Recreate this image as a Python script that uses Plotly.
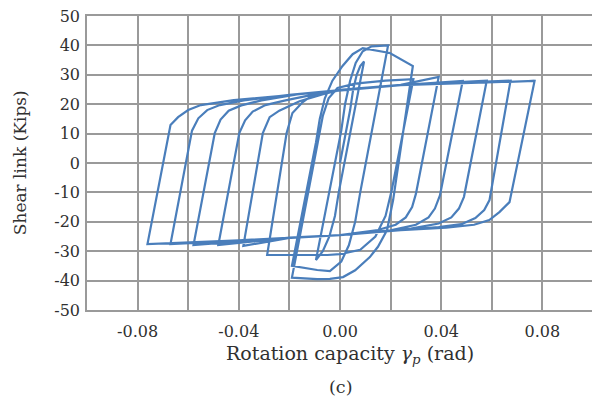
import plotly.graph_objects as go

# ---- axis ticks ----
x_grid_vals = [-0.10, -0.08, -0.06, -0.04, -0.02, 0.00, 0.02, 0.04, 0.06, 0.08, 0.10]
x_tick_text = ["", "-0.08", "", "-0.04", "", "0.00", "", "0.04", "", "0.08", ""]
y_tick_vals = [-50, -40, -30, -20, -10, 0, 10, 20, 30, 40, 50]
y_tick_text = ["-50", "-40", "-30", "-20", "-10", "0", "10", "20", "30", "40", "50"]

# ---- hysteresis branches (rotation rad, shear kips) ----
b01_x = [0.0000, 0.0040, 0.0052, 0.0066, 0.0080, 0.0095]
b01_y = [0.0, 18.0, 25.0, 30.0, 33.0, 34.5]
b02_x = [0.0095, -0.0005, -0.0020, -0.0042, -0.0068, -0.0095]
b02_y = [34.5, -10.0, -18.0, -25.0, -30.0, -33.0]
b03_x = [-0.0095, 0.0005, 0.0020, 0.0040, 0.0062, 0.0090, 0.0125, 0.0190]
b03_y = [-33.0, 11.0, 20.0, 28.0, 34.0, 38.0, 39.7, 40.0]
b04_x = [0.0190, 0.0080, 0.0060, 0.0035, 0.0005, -0.0040, -0.0090, -0.0190]
b04_y = [40.0, -10.0, -20.0, -28.0, -33.5, -36.8, -36.4, -35.0]
b05_x = [-0.0190, -0.0095, -0.0080, -0.0060, -0.0030, 0.0010, 0.0050, 0.0090, 0.0197, 0.0288]
b05_y = [-35.0, 7.0, 15.0, 22.0, 28.0, 33.0, 37.0, 39.1, 37.4, 33.0]
b06_x = [0.0288, 0.0210, 0.0186, 0.0150, 0.0118, 0.0060, 0.0012, -0.0040, -0.0090, -0.0190]
b06_y = [33.0, -12.6, -22.8, -28.5, -32.0, -36.5, -38.8, -39.4, -39.5, -39.0]
b07_x = [-0.0190, -0.0085, -0.0068, -0.0045, -0.0010, 0.0060, 0.0180, 0.0290]
b07_y = [-39.0, 8.0, 16.0, 22.0, 25.5, 27.0, 28.0, 28.5]
b08_x = [0.0290, 0.0205, 0.0180, 0.0140, 0.0080, 0.0000, -0.0050, -0.0288]
b08_y = [28.5, -9.0, -18.0, -25.0, -29.5, -31.0, -31.3, -31.3]
b09_x = [-0.0288, -0.0211, -0.0188, -0.0150, -0.0120, -0.0060, 0.0000, 0.0240, 0.0390]
b09_y = [-31.3, 10.2, 17.0, 20.5, 22.4, 24.0, 24.9, 26.6, 29.3]
b10_x = [0.0390, 0.0300, 0.0285, 0.0260, 0.0220, 0.0150, 0.0000, -0.0200, -0.0382]
b10_y = [29.3, -10.5, -15.0, -18.5, -21.0, -22.8, -24.5, -25.5, -28.2]
b11_x = [-0.0382, -0.0305, -0.0278, -0.0240, -0.0211, -0.0160, -0.0060, 0.0000, 0.0240, 0.0485]
b11_y = [-28.2, 10.2, 15.6, 17.8, 19.0, 21.0, 23.6, 24.8, 26.5, 27.9]
b12_x = [0.0485, 0.0395, 0.0375, 0.0350, 0.0300, 0.0200, 0.0000, -0.0200, -0.0481]
b12_y = [27.9, -11.0, -15.5, -18.5, -21.0, -22.9, -24.5, -25.4, -27.9]
b13_x = [-0.0481, -0.0398, -0.0375, -0.0345, -0.0295, -0.0220, -0.0120, 0.0000, 0.0240, 0.0580]
b13_y = [-27.9, 10.2, 14.5, 17.5, 19.7, 21.2, 23.0, 24.8, 26.5, 28.0]
b14_x = [0.0580, 0.0490, 0.0470, 0.0440, 0.0390, 0.0280, 0.0150, 0.0000, -0.0300, -0.0579]
b14_y = [28.0, -11.5, -15.5, -18.5, -20.6, -22.3, -23.3, -24.5, -26.0, -27.9]
b15_x = [-0.0579, -0.0495, -0.0472, -0.0440, -0.0390, -0.0310, -0.0170, 0.0000, 0.0240, 0.0674]
b15_y = [-27.9, 10.2, 14.8, 17.8, 19.6, 21.3, 23.3, 24.8, 26.5, 28.0]
b16_x = [0.0674, 0.0591, 0.0570, 0.0535, 0.0480, 0.0390, 0.0240, 0.0000, -0.0350, -0.0670]
b16_y = [28.0, -12.6, -16.0, -18.7, -20.8, -21.8, -22.8, -24.5, -26.2, -27.6]
b17_x = [-0.0670, -0.0585, -0.0560, -0.0525, -0.0475, -0.0380, -0.0200, 0.0000, 0.0240, 0.0769]
b17_y = [-27.6, 11.0, 15.2, 18.0, 19.7, 21.3, 23.2, 24.8, 26.5, 27.9]
b18_x = [0.0769, 0.0670, 0.0630, 0.0590, 0.0530, 0.0420, 0.0240, 0.0000, -0.0400, -0.0761]
b18_y = [27.9, -13.3, -16.7, -19.4, -21.0, -22.0, -22.8, -24.5, -26.3, -27.6]
b19_x = [-0.0761, -0.0670, -0.0640, -0.0600, -0.0550, -0.0420, -0.0200, 0.0000, 0.0240, 0.0769]
b19_y = [-27.6, 12.9, 15.6, 18.0, 19.7, 21.4, 23.1, 24.8, 26.5, 27.9]

branches_x = [b01_x, b02_x, b03_x, b04_x, b05_x, b06_x, b07_x, b08_x, b09_x, b10_x,
              b11_x, b12_x, b13_x, b14_x, b15_x, b16_x, b17_x, b18_x, b19_x]
branches_y = [b01_y, b02_y, b03_y, b04_y, b05_y, b06_y, b07_y, b08_y, b09_y, b10_y,
              b11_y, b12_y, b13_y, b14_y, b15_y, b16_y, b17_y, b18_y, b19_y]

path_x, path_y = [], []
for bx, by in zip(branches_x, branches_y):
    if path_x:
        bx, by = bx[1:], by[1:]
    path_x.extend(bx)
    path_y.extend(by)

FONT = "DejaVu Serif"
TXT = "#303030"
GRID = "#9a9a9a"

fig = go.Figure()
fig.add_trace(go.Scatter(x=path_x, y=path_y, mode="lines",
                         line=dict(color="#4a7ebb", width=2.2),
                         hoverinfo="skip", showlegend=False))

axis_common = dict(showgrid=True, gridcolor=GRID, gridwidth=1.5, zeroline=False,
                   showline=True, linecolor=GRID, linewidth=1.5, mirror=True,
                   ticks="", automargin=False, ticklabeloverflow="allow",
                   tickfont=dict(family=FONT, size=16, color=TXT))

# the page body adds an 8 px offset, so the figure is 8 px smaller than the window
fig.update_layout(
    width=592, height=393,
    margin=dict(l=79, r=7, t=8, b=91),
    paper_bgcolor="white", plot_bgcolor="white",
    font=dict(family=FONT, size=16, color=TXT),
    showlegend=False,
    xaxis=dict(range=[-0.1, 0.1], tickvals=x_grid_vals, ticktext=x_tick_text,
               ticklabelstandoff=6, **axis_common),
    yaxis=dict(range=[-50, 50], tickvals=y_tick_vals, ticktext=y_tick_text,
               ticklabelstandoff=2, **axis_common),
    annotations=[
        dict(text="Rotation capacity <i>γ</i><sub><i>p</i></sub> (rad)",
             x=0.52, y=-0.15, xref="paper", yref="paper", xanchor="center", yanchor="middle",
             showarrow=False, font=dict(family=FONT, size=19, color=TXT)),
        dict(text="Shear link (Kips)", textangle=-90,
             x=-0.132, y=0.5, xref="paper", yref="paper", xanchor="center", yanchor="middle",
             showarrow=False, font=dict(family=FONT, size=17, color=TXT)),
        dict(text="(c)", x=0.5, y=-0.262, xref="paper", yref="paper",
             xanchor="center", yanchor="middle",
             showarrow=False, font=dict(family=FONT, size=17.5, color=TXT)),
    ],
)

fig.write_html("out.html")
